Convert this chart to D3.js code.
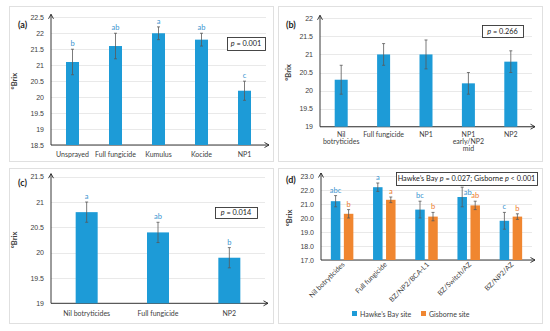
<!DOCTYPE html>
<html>
<head>
<meta charset="utf-8">
<script src="https://cdn.jsdelivr.net/npm/d3@7"></script>
<style>
  body { margin: 0; background: #fff; }
  svg { font-family: Lato, "Open Sans", sans-serif; }
  .tick text { font-size: 7px; fill: #404040; }
</style>
</head>
<body>
<script>
// panel (a)
var catsA = ["Unsprayed", "Full fungicide", "Kumulus", "Kocide", "NP1"];
var valsA = [21.1, 21.6, 22.0, 21.8, 20.2];
var errA = [0.4, 0.4, 0.2, 0.2, 0.3];
var letA = ["b", "ab", "a", "ab", "c"];
var ticksA = [18.5, 19, 19.5, 20, 20.5, 21, 21.5, 22, 22.5];

// panel (b)
var catsB = [["Nil", "botryticides"], ["Full fungicide"], ["NP1"], ["NP1", "early/NP2", "mid"], ["NP2"]];
var valsB = [20.3, 21.0, 21.0, 20.2, 20.8];
var errB = [0.4, 0.3, 0.4, 0.3, 0.3];
var ticksB = [19, 19.5, 20, 20.5, 21, 21.5, 22];

// panel (c)
var catsC = ["Nil botryticides", "Full fungicide", "NP2"];
var valsC = [20.8, 20.4, 19.9];
var errC = [0.2, 0.2, 0.2];
var letC = ["a", "ab", "b"];
var ticksC = [19, 19.5, 20, 20.5, 21, 21.5];

// panel (d)
var catsD = ["Nil botryticides", "Full fungicide", "BZ/NP2/BCA-L1", "BZ/Switch/AZ", "BZ/NP2/AZ"];
var seriesD = ["Hawke\u2019s Bay site", "Gisborne site"];
var hawkes = [21.2, 22.2, 20.6, 21.5, 19.8];
var hawkesErr = [0.4, 0.3, 0.6, 0.7, 0.6];
var hawkesLet = ["abc", "a", "bc", "ab", "c"];
var gisborne = [20.3, 21.3, 20.1, 20.9, 20.1];
var gisborneErr = [0.3, 0.2, 0.3, 0.3, 0.2];
var gisborneLet = ["b", "a", "b", "ab", "b"];
var ticksD = [17, 18, 19, 20, 21, 22, 23];

var blue = "#1d9bd7", orange = "#f08630";
var blueText = "#3a95d0", orangeText = "#ec7a2a";

var svg = d3.select("body").append("svg")
    .attr("width", 550)
    .attr("height", 331);

//panel frames
[[9, 6], [278, 6], [9, 168], [278, 168]].forEach(function(p){
    svg.append("rect")
        .attr("x", p[0] + 0.5).attr("y", p[1] + 0.5)
        .attr("width", 264).attr("height", 155)
        .attr("fill", "none")
        .attr("stroke", "#e0e0e0");
});

//draws grid, axes and arrows for one panel, returns scales
function frame(o){
    var g = svg.append("g");
    var y = d3.scaleLinear().domain(o.domain).range([o.y0, o.y1]);
    var x = d3.scaleBand().domain(d3.range(o.n)).range([o.x0, o.x1]);

    g.selectAll(".grid")
        .data(o.ticks)
        .enter()
        .append("line")
        .attr("x1", o.x0).attr("x2", o.x1)
        .attr("y1", function(d){ return Math.round(y(d)) + 0.5; })
        .attr("y2", function(d){ return Math.round(y(d)) + 0.5; })
        .attr("stroke", "#e3e3e3")
        .attr("stroke-width", 0.8);

    var axis = g.append("g")
        .attr("transform", "translate(" + o.x0 + ",0)")
        .call(d3.axisLeft(y).tickValues(o.ticks).tickSize(0).tickPadding(7).tickFormat(o.fmt || function(d){ return String(d); }));
    axis.select(".domain").remove();

    //arrowed axes
    g.append("path")
        .attr("d", "M" + o.x0 + "," + o.y0 + "V" + (o.y1 - 3))
        .attr("stroke", "#222").attr("stroke-width", 0.9).attr("fill", "none");
    g.append("path")
        .attr("d", "M" + (o.x0 - 2.5) + "," + (o.y1 + 1.5) + "L" + o.x0 + "," + (o.y1 - 3) + "L" + (o.x0 + 2.5) + "," + (o.y1 + 1.5))
        .attr("stroke", "#222").attr("stroke-width", 0.9).attr("fill", "none");
    g.append("path")
        .attr("d", "M" + o.x0 + "," + o.y0 + "H" + (o.x1 + 3))
        .attr("stroke", "#222").attr("stroke-width", 0.9).attr("fill", "none");
    g.append("path")
        .attr("d", "M" + (o.x1 - 1.5) + "," + (o.y0 - 2.5) + "L" + (o.x1 + 3) + "," + o.y0 + "L" + (o.x1 - 1.5) + "," + (o.y0 + 2.5))
        .attr("stroke", "#222").attr("stroke-width", 0.9).attr("fill", "none");

    //axis title and panel letter
    g.append("text")
        .attr("transform", "translate(" + o.titleX + "," + ((o.y0 + o.y1) / 2) + ") rotate(-90)")
        .attr("text-anchor", "middle")
        .attr("font-size", 7.5).attr("font-weight", "bold").attr("fill", "#404040")
        .text("\u00b0Brix");
    g.append("text")
        .attr("x", o.labX).attr("y", o.labY)
        .attr("font-size", 9).attr("font-weight", "bold").attr("fill", "#222")
        .text(o.label);
    return { g: g, x: x, y: y };
}

//bars with error whiskers; letters under the p-value box go beside the whisker
function bars(f, vals, errs, lets, w, offset, color, textColor, box){
    var g = f.g.append("g");
    var cx = function(i){ return f.x(i) + f.x.bandwidth() / 2 + offset; };
    g.selectAll("rect")
        .data(vals)
        .enter()
        .append("rect")
        .attr("x", function(d, i){ return cx(i) - w / 2; })
        .attr("y", function(d){ return f.y(d); })
        .attr("width", w)
        .attr("height", function(d){ return f.y.range()[0] - f.y(d); })
        .attr("fill", color);
    vals.forEach(function(v, i){
        var top = f.y(v + errs[i]), bot = f.y(v - errs[i]);
        g.append("line").attr("x1", cx(i)).attr("x2", cx(i)).attr("y1", top).attr("y2", bot)
            .attr("stroke", "#595959").attr("stroke-width", 0.8);
        [top, bot].forEach(function(yy){
            g.append("line").attr("x1", cx(i) - 1.5).attr("x2", cx(i) + 1.5).attr("y1", yy).attr("y2", yy)
                .attr("stroke", "#595959").attr("stroke-width", 0.8);
        });
        if (lets) {
            var side = box && cx(i) > box[0] && top - 9 < box[1];
            g.append("text")
                .attr("x", side ? cx(i) + 1.5 : cx(i))
                .attr("y", side ? top + 8 : top - 3)
                .attr("text-anchor", side ? "start" : "middle")
                .attr("font-size", 7.5).attr("fill", textColor)
                .text(lets[i]);
        }
    });
}

function pbox(x, y, w, h, parts){
    svg.append("rect").attr("x", x + 0.5).attr("y", y + 0.5).attr("width", w).attr("height", h)
        .attr("fill", "#fff").attr("stroke", "#333").attr("stroke-width", 0.9);
    var t = svg.append("text").attr("x", x + w / 2).attr("y", y + h / 2 + 2.6)
        .attr("text-anchor", "middle").attr("font-size", 7.3).attr("fill", "#222");
    parts.forEach(function(p){
        t.append("tspan").attr("font-style", p[1] ? "italic" : "normal").text(p[0]);
    });
}

function xLabels(f, cats, yy){
    cats.forEach(function(c, i){
        var lines = Array.isArray(c) ? c : [c];
        var t = f.g.append("text")
            .attr("text-anchor", "middle")
            .attr("font-size", 7).attr("fill", "#404040");
        lines.forEach(function(l, k){
            t.append("tspan")
                .attr("x", f.x(i) + f.x.bandwidth() / 2)
                .attr("y", yy + k * 6.8)
                .text(l);
        });
    });
}

// (a)
var fa = frame({ n: 5, domain: [18.5, 22.5], ticks: ticksA, x0: 51, x1: 266, y0: 145, y1: 17.3,
    titleX: 17, labX: 18, labY: 28, label: "(a)" });
bars(fa, valsA, errA, letA, 13, 0, blue, blueText);
xLabels(fa, catsA, 157);
pbox(227, 37, 38, 13, [["p", true], [" = 0.001", false]]);

// (b)
var fb = frame({ n: 5, domain: [19, 22], ticks: ticksB, x0: 320, x1: 532, y0: 126.7, y1: 18.3,
    titleX: 291, labX: 286, labY: 28, label: "(b)" });
bars(fb, valsB, errB, null, 13, 0, blue, blueText);
xLabels(fb, catsB, 137);
pbox(482, 25, 41, 12, [["p", true], [" = 0.266", false]]);

// (c)
var fc = frame({ n: 3, domain: [19, 21.5], ticks: ticksC, x0: 51, x1: 265, y0: 303.3, y1: 176.7,
    titleX: 17, labX: 18, labY: 186, label: "(c)" });
bars(fc, valsC, errC, letC, 22, 0, blue, blueText);
xLabels(fc, catsC, 316);
pbox(215, 207, 42, 11, [["p", true], [" = 0.014", false]]);

// (d)
var fd = frame({ n: 5, domain: [17, 23], ticks: ticksD, x0: 321, x1: 532, y0: 260, y1: 176,
    titleX: 292, labX: 286, labY: 183, label: "(d)", fmt: d3.format(".1f") });
bars(fd, hawkes, hawkesErr, hawkesLet, 9.5, -6.5, blue, blueText, [396, 186]);
bars(fd, gisborne, gisborneErr, gisborneLet, 9.5, 6.5, orange, orangeText, [396, 186]);
catsD.forEach(function(c, i){
    var cx = fd.x(i) + fd.x.bandwidth() / 2 + 3;
    fd.g.append("text")
        .attr("transform", "translate(" + cx + ",265) rotate(-45)")
        .attr("text-anchor", "end")
        .attr("font-size", 7).attr("fill", "#404040")
        .text(c);
});
pbox(396, 172, 141, 13, [["Hawke\u2019s Bay ", false], ["p", true], [" = 0.027;  Gisborne ", false], ["p", true], [" < 0.001", false]]);

//legend
var leg = svg.append("g");
[[352, blue], [421, orange]].forEach(function(l, i){
    leg.append("rect").attr("x", l[0]).attr("y", 311).attr("width", 5).attr("height", 5).attr("fill", l[1]);
    leg.append("text").attr("x", l[0] + 8).attr("y", 316.5)
        .attr("font-size", 7).attr("fill", "#404040")
        .text(seriesD[i]);
});
</script>
</body>
</html>
